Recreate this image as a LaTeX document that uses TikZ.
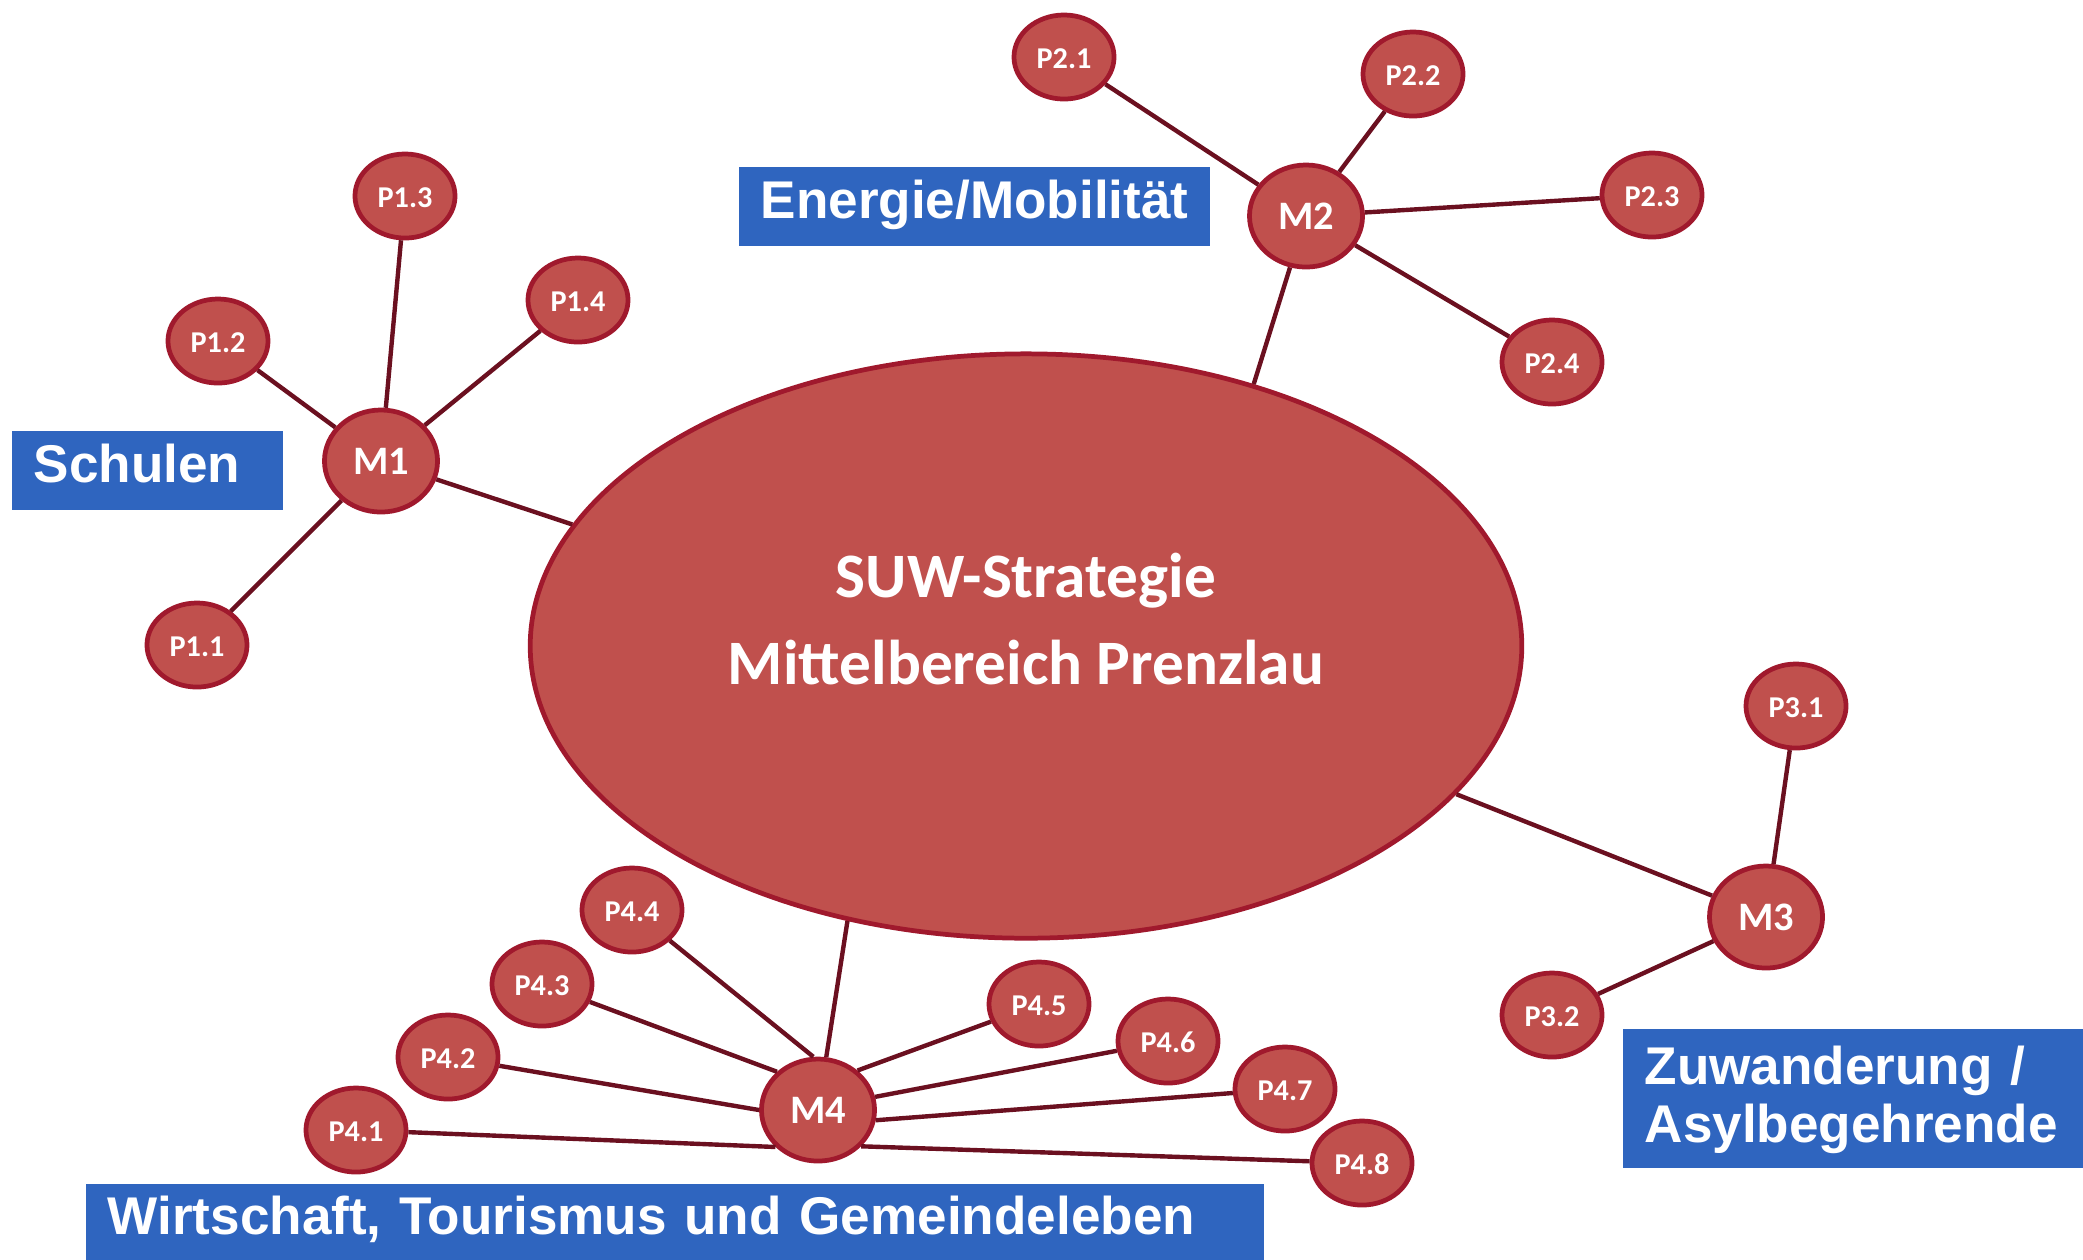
\documentclass[tikz,border=0pt]{standalone}
\usepackage{fontspec}
\setmainfont{Carlito}
\newfontfamily\topicfont{Liberation Sans}
\usetikzlibrary{shapes.geometric}

\definecolor{nodefill}{HTML}{C0504D}
\definecolor{nodeedge}{HTML}{A0192D}
\definecolor{linkcol}{HTML}{6B1020}
\definecolor{topicblue}{HTML}{2F65BF}

\begin{document}
\begin{tikzpicture}[x=0.01cm, y=-0.01cm,
  bubble/.style={ellipse, fill=nodefill, draw=nodeedge, line width=1.35pt, text=white, inner sep=0pt},
  pnode/.style={bubble, minimum width=1cm, minimum height=0.84cm, text height=0.68em, text depth=0pt,
    font=\bfseries\fontsize{8.6}{10}\selectfont},
  mnode/.style={bubble, minimum width=1.13cm, minimum height=1.02cm, text height=0.75em, text depth=0pt,
    font=\bfseries\fontsize{11.5}{13}\selectfont},
  hub/.style={bubble, minimum width=9.91cm, minimum height=5.84cm},
  hubtext/.style={text=white, align=center, font=\bfseries\fontsize{18}{25}\selectfont},
  topic/.style={anchor=north west, fill=topicblue, text=white, inner xsep=0.22cm, inner ysep=0pt,
    align=left, font=\topicfont\bfseries\fontsize{15.1}{16.5}\selectfont},
  link/.style={draw=linkcol, line width=1.25pt}]

  \useasboundingbox (0,0) rectangle (2083,1259);

  % Central strategy ellipse
  \node[hub] (ell) at (1026,646) {};
  \node[hubtext] (title) at (1026,619) {SUW-Strategie\\Mittelbereich Prenzlau};

  % Measure nodes
  \node[mnode] (m1) at (381,461) {M1};
  \node[mnode] (m2) at (1306,216) {M2};
  \node[mnode] (m3) at (1766,917) {M3};
  \node[mnode] (m4) at (818,1110) {M4};

  % Project nodes
  \node[pnode] (p11) at (197,645) {P1.1};
  \node[pnode] (p12) at (218,341) {P1.2};
  \node[pnode] (p13) at (405,196) {P1.3};
  \node[pnode] (p14) at (578,300) {P1.4};

  \node[pnode] (p21) at (1064,57) {P2.1};
  \node[pnode] (p22) at (1413,74) {P2.2};
  \node[pnode] (p23) at (1652,195) {P2.3};
  \node[pnode] (p24) at (1552,362) {P2.4};

  \node[pnode] (p31) at (1796,706) {P3.1};
  \node[pnode] (p32) at (1552,1015) {P3.2};

  \node[pnode] (p41) at (356,1130) {P4.1};
  \node[pnode] (p42) at (448,1057) {P4.2};
  \node[pnode] (p43) at (542,984) {P4.3};
  \node[pnode] (p44) at (632,910) {P4.4};
  \node[pnode] (p45) at (1039,1004) {P4.5};
  \node[pnode] (p46) at (1168,1041) {P4.6};
  \node[pnode] (p47) at (1285,1089) {P4.7};
  \node[pnode] (p48) at (1362,1163) {P4.8};

  % Links to the centre
  \draw[link] (m1) -- (ell.165);
  \draw[link] (m2) -- (ell.49);
  \draw[link] (m3) -- (ell.-19);
  \draw[link] (m4) -- (ell.-123);

  % Links to the projects
  \draw[link] (p11) -- (m1);
  \draw[link] (p12) -- (m1);
  \draw[link] (p13) -- (m1);
  \draw[link] (p14) -- (m1);

  \draw[link] (p21) -- (m2);
  \draw[link] (p22) -- (m2);
  \draw[link] (p23) -- (m2);
  \draw[link] (p24) -- (m2);

  \draw[link] (p31) -- (m3);
  \draw[link] (p32) -- (m3);

  \draw[link] (p41) -- (m4.-139);
  \draw[link] (p42) -- (m4.180);
  \draw[link] (p43) -- (m4.137);
  \draw[link] (p44) -- (m4.95);
  \draw[link] (p45) -- (m4.45);
  \draw[link] (p46) -- (m4.13);
  \draw[link] (p47) -- (m4.-10);
  \draw[link] (p48) -- (m4.-40);

  % Topic labels
  \node[topic, minimum width=2.71cm, minimum height=0.79cm, text width=2.27cm,
    text height=0.72em, text depth=0pt] (schulen) at (11,430) {Schulen};
  \node[topic, minimum width=4.71cm, minimum height=0.79cm, text width=4.27cm,
    text height=0.72em, text depth=0pt] (energie) at (738,166) {Energie/Mobilität};
  \node[topic, minimum width=4.70cm, minimum height=1.39cm, text width=4.26cm,
    text height=1.2em] (zuwand) at (1622,1028) {Zuwanderung /\\Asylbegehrende};
  \node[topic, minimum width=11.78cm, minimum height=0.76cm, text width=11.34cm,
    text height=0.72em, text depth=0pt] (wirtschaft) at (85,1183) {Wirtschaft, Tourismus und Gemeindeleben};

\end{tikzpicture}
\end{document}
